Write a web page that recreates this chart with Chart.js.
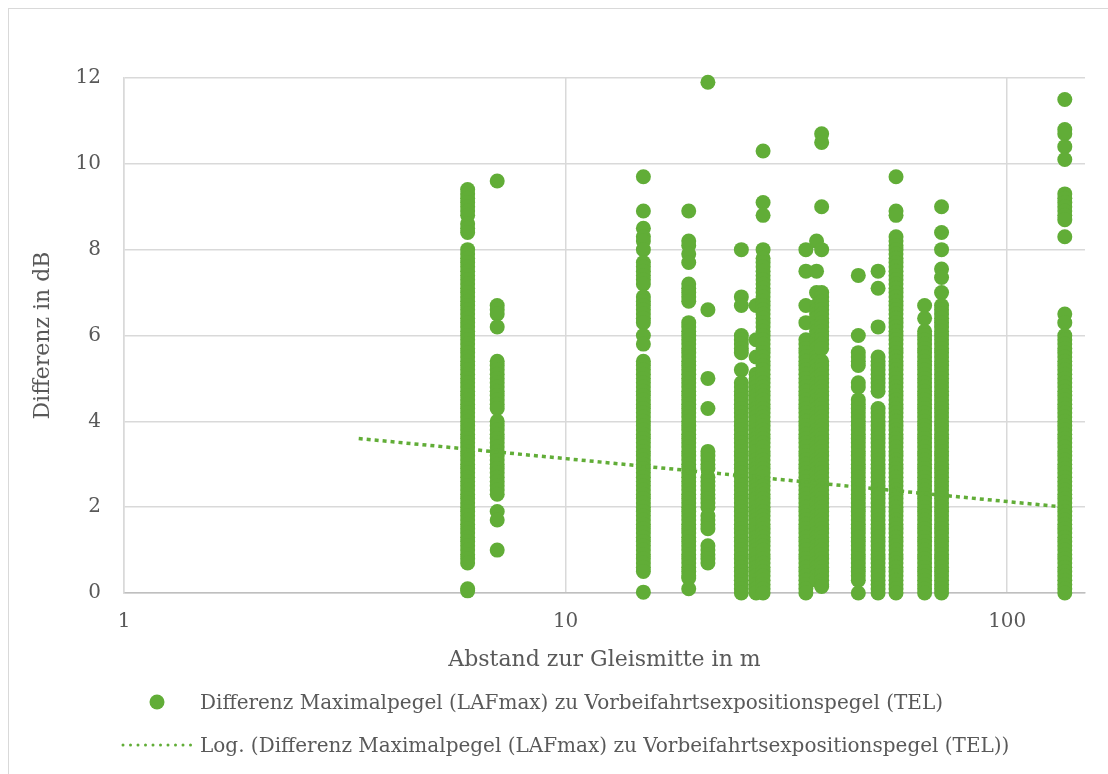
<!DOCTYPE html>
<html>
<head>
<meta charset="utf-8">
<script src="https://cdn.jsdelivr.net/npm/chart.js@4.4.1/dist/chart.umd.min.js"></script>
<style>
  html, body { margin: 0; padding: 0; background: #ffffff; overflow: hidden; }
  #wrap { position: relative; width: 1108px; height: 774px; }
  #frame { position: absolute; left: 8px; top: 8px; width: 1200px; height: 1000px;
           border: 1.5px solid #d9d9d9; box-sizing: border-box; }
  #chart { position: absolute; left: 0; top: 0; }
  #legend { position: absolute; left: 0; top: 0; width: 1108px; height: 774px;
            font-family: 'DejaVu Serif', serif; font-size: 20px; color: #595959; }
  #legend svg { position: absolute; left: 0; top: 0; }
  .item { position: absolute; left: 200px; white-space: nowrap; line-height: 24px; }
</style>
</head>
<body>
<div id="wrap">
  <div id="frame"></div>
  <canvas id="chart" width="1108" height="774"></canvas>
  <div id="legend">
    <svg width="1108" height="774">
      <circle id="legDot" cx="157" cy="702" r="7.5"></circle>
      <line id="legLine" x1="123" y1="745" x2="191" y2="745" stroke-width="3"
            stroke-dasharray="0 7.5" stroke-linecap="round"></line>
    </svg>
    <div class="item" id="leg1" style="top:690px"></div>
    <div class="item" id="leg2" style="top:733px"></div>
  </div>
</div>
<script>
// ---- data (dB values, 0.1 dB resolution) ----
const distances = [6, 7, 15, 19, 21, 25, 27, 28, 35, 37, 38, 46, 51, 56, 65, 71, 135];

const diff6m = [9.4, 9.3, 9.2, 9.1, 9.0, 8.9, 8.8, 8.6, 8.5, 8.4,
  8.0, 7.9, 7.8, 7.7, 7.6, 7.5, 7.4, 7.3, 7.2, 7.1, 7.0, 6.9, 6.8, 6.7, 6.6, 6.5, 6.4, 6.3, 6.2, 6.1,
  6.0, 5.9, 5.8, 5.7, 5.6, 5.5, 5.4, 5.3, 5.2, 5.1, 5.0, 4.9, 4.8, 4.7, 4.6, 4.5, 4.4, 4.3, 4.2, 4.1,
  4.0, 3.9, 3.8, 3.7, 3.6, 3.5, 3.4, 3.3, 3.2, 3.1, 3.0, 2.9, 2.8, 2.7, 2.6, 2.5, 2.4, 2.3, 2.2, 2.1,
  2.0, 1.9, 1.8, 1.7, 1.6, 1.5, 1.4, 1.3, 1.2, 1.1, 1.0, 0.9, 0.8, 0.7, 0.1, 0.05];
const diff7m = [9.6, 6.7, 6.6, 6.5, 6.2, 5.4, 5.3, 5.2, 5.1, 5.0, 4.9, 4.8, 4.7, 4.6, 4.5, 4.4, 4.3,
  4.0, 3.9, 3.8, 3.7, 3.6, 3.5, 3.4, 3.3, 3.2, 3.1, 3.0, 2.9, 2.8, 2.7, 2.6, 2.5, 2.4, 2.3, 1.9, 1.7, 1.0];
const diff15m = [9.7, 8.9, 8.5, 8.3, 8.2, 8.0, 7.7, 7.6, 7.5, 7.4, 7.3, 7.2, 6.9, 6.8, 6.7, 6.6, 6.5, 6.4, 6.3, 6.0, 5.8,
  5.4, 5.3, 5.2, 5.1, 5.0, 4.9, 4.8, 4.7, 4.6, 4.5, 4.4, 4.3, 4.2, 4.1, 4.0, 3.9, 3.8, 3.7, 3.6, 3.5,
  3.4, 3.3, 3.2, 3.1, 3.0, 2.9, 2.8, 2.7, 2.6, 2.5, 2.4, 2.3, 2.2, 2.1, 2.0, 1.9, 1.8, 1.7, 1.6, 1.5,
  1.4, 1.3, 1.2, 1.1, 1.0, 0.9, 0.8, 0.7, 0.6, 0.5, 0.02];
const diff19m = [8.9, 8.2, 8.1, 7.9, 7.7, 7.2, 7.1, 7.0, 6.9, 6.8,
  6.3, 6.2, 6.1, 6.0, 5.9, 5.8, 5.7, 5.6, 5.5, 5.4, 5.3, 5.2, 5.1, 5.0, 4.9, 4.8, 4.7, 4.6, 4.5, 4.4,
  4.3, 4.2, 4.1, 4.0, 3.9, 3.8, 3.7, 3.6, 3.5, 3.4, 3.3, 3.2, 3.1, 3.0, 2.9, 2.8, 2.7, 2.6, 2.5, 2.4,
  2.3, 2.2, 2.1, 2.0, 1.9, 1.8, 1.7, 1.6, 1.5, 1.4, 1.3, 1.2, 1.1, 1.0, 0.9, 0.8, 0.7, 0.6, 0.5, 0.4,
  0.35, 0.1];
const diff21m = [11.9, 6.6, 5.0, 4.3, 3.3, 3.2, 3.1, 3.0, 2.9, 2.7, 2.6, 2.5, 2.4, 2.3, 2.2, 2.1, 2.0,
  1.8, 1.7, 1.6, 1.5, 1.1, 1.0, 0.9, 0.8, 0.7];
const diff25m = [8.0, 6.9, 6.7, 6.0, 5.9, 5.8, 5.7, 5.6, 5.2,
  4.9, 4.8, 4.7, 4.6, 4.5, 4.4, 4.3, 4.2, 4.1, 4.0, 3.9, 3.8, 3.7, 3.6, 3.5, 3.4, 3.3, 3.2, 3.1, 3.0,
  2.9, 2.8, 2.7, 2.6, 2.5, 2.4, 2.3, 2.2, 2.1, 2.0, 1.9, 1.8, 1.7, 1.6, 1.5, 1.4, 1.3, 1.2, 1.1, 1.0,
  0.9, 0.8, 0.7, 0.6, 0.5, 0.4, 0.3, 0.2, 0.1, 0.0];
const diff27m = [6.7, 5.9, 5.5,
  5.1, 5.0, 4.9, 4.8, 4.7, 4.6, 4.5, 4.4, 4.3, 4.2, 4.1, 4.0, 3.9, 3.8, 3.7, 3.6, 3.5, 3.4, 3.3, 3.2,
  3.1, 3.0, 2.9, 2.8, 2.7, 2.6, 2.5, 2.4, 2.3, 2.2, 2.1, 2.0, 1.9, 1.8, 1.7, 1.6, 1.5, 1.4, 1.3, 1.2,
  1.1, 1.0, 0.9, 0.8, 0.7, 0.6, 0.5, 0.4, 0.3, 0.2, 0.1, 0.0];
const diff28m = [10.3, 9.1, 8.8, 8.0,
  7.8, 7.7, 7.6, 7.5, 7.4, 7.3, 7.2, 7.1, 7.0, 6.9, 6.8, 6.7, 6.6, 6.5, 6.4, 6.3, 6.2, 6.1, 6.0, 5.9,
  5.8, 5.7, 5.6, 5.5, 5.4, 5.3, 5.2, 5.1, 5.0, 4.9, 4.8, 4.7, 4.6, 4.5, 4.4, 4.3, 4.2, 4.1, 4.0, 3.9,
  3.8, 3.7, 3.6, 3.5, 3.4, 3.3, 3.2, 3.1, 3.0, 2.9, 2.8, 2.7, 2.6, 2.5, 2.4, 2.3, 2.2, 2.1, 2.0, 1.9,
  1.8, 1.7, 1.6, 1.5, 1.4, 1.3, 1.2, 1.1, 1.0, 0.9, 0.8, 0.7, 0.6, 0.5, 0.4, 0.3, 0.2, 0.1, 0.0];
const diff35m = [8.0, 7.5, 6.7, 6.3,
  5.9, 5.8, 5.7, 5.6, 5.5, 5.4, 5.3, 5.2, 5.1, 5.0, 4.9, 4.8, 4.7, 4.6, 4.5, 4.4, 4.3, 4.2, 4.1, 4.0,
  3.9, 3.8, 3.7, 3.6, 3.5, 3.4, 3.3, 3.2, 3.1, 3.0, 2.9, 2.8, 2.7, 2.6, 2.5, 2.4, 2.3, 2.2, 2.1, 2.0,
  1.9, 1.8, 1.7, 1.6, 1.5, 1.4, 1.3, 1.2, 1.1, 1.0, 0.9, 0.8, 0.7, 0.6, 0.5, 0.4, 0.3, 0.2, 0.1, 0.0];
const diff37m = [8.2, 7.5, 7.0,
  6.7, 6.6, 6.5, 6.4, 6.3, 6.2, 6.1, 6.0, 5.9, 5.8, 5.7, 5.6, 5.5, 5.4, 5.3, 5.2, 5.1, 5.0, 4.9, 4.8,
  4.7, 4.6, 4.5, 4.4, 4.3, 4.2, 4.1, 4.0, 3.9, 3.8, 3.7, 3.6, 3.5, 3.4, 3.3, 3.2, 3.1, 3.0, 2.9, 2.8,
  2.7, 2.6, 2.5, 2.4, 2.3, 2.2, 2.1, 2.0, 1.9, 1.8, 1.7, 1.6, 1.5, 1.4, 1.3, 1.2, 1.1, 1.0, 0.9, 0.8,
  0.7, 0.6, 0.5, 0.4, 0.3];
const diff38m = [10.7, 10.5, 9.0, 8.0, 7.0,
  6.9, 6.8, 6.7, 6.6, 6.5, 6.4, 6.3, 6.2, 6.1, 6.0, 5.9, 5.8, 5.7, 5.4, 5.3, 5.2, 5.1, 5.0, 4.9, 4.8,
  4.7, 4.6, 4.5, 4.4, 4.3, 4.2, 4.1, 4.0, 3.9, 3.8, 3.7, 3.6, 3.5, 3.4, 3.3, 3.2, 3.1, 3.0, 2.9, 2.8,
  2.7, 2.6, 2.5, 2.4, 2.3, 2.2, 2.1, 2.0, 1.9, 1.8, 1.7, 1.6, 1.5, 1.4, 1.3, 1.2, 1.1, 1.0, 0.9, 0.8,
  0.7, 0.6, 0.5, 0.4, 0.3, 0.2, 0.15];
const diff46m = [7.4, 6.0, 5.6, 5.5, 5.4, 5.3, 4.9, 4.8,
  4.5, 4.4, 4.3, 4.2, 4.1, 4.0, 3.9, 3.8, 3.7, 3.6, 3.5, 3.4, 3.3, 3.2, 3.1, 3.0, 2.9, 2.8, 2.7, 2.6,
  2.5, 2.4, 2.3, 2.2, 2.1, 2.0, 1.9, 1.8, 1.7, 1.6, 1.5, 1.4, 1.3, 1.2, 1.1, 1.0, 0.9, 0.8, 0.7, 0.6,
  0.5, 0.4, 0.3, 0.0];
const diff51m = [7.5, 7.1, 6.2, 5.5, 5.4, 5.3, 5.2, 5.1, 5.0, 4.9, 4.8, 4.7,
  4.3, 4.2, 4.1, 4.0, 3.9, 3.8, 3.7, 3.6, 3.5, 3.4, 3.3, 3.2, 3.1, 3.0, 2.9, 2.8, 2.7, 2.6, 2.5, 2.4,
  2.3, 2.2, 2.1, 2.0, 1.9, 1.8, 1.7, 1.6, 1.5, 1.4, 1.3, 1.2, 1.1, 1.0, 0.9, 0.8, 0.7, 0.6, 0.5, 0.4,
  0.3, 0.2, 0.1, 0.0];
const diff56m = [9.7, 8.9, 8.8, 8.3, 8.2, 8.1, 8.0, 7.9, 7.8, 7.7,
  7.6, 7.5, 7.4, 7.3, 7.2, 7.1, 7.0, 6.9, 6.8, 6.7, 6.6, 6.5, 6.4, 6.3, 6.2, 6.1, 6.0, 5.9, 5.8, 5.7,
  5.6, 5.5, 5.4, 5.3, 5.2, 5.1, 5.0, 4.9, 4.8, 4.7, 4.6, 4.5, 4.4, 4.3, 4.2, 4.1, 4.0, 3.9, 3.8, 3.7,
  3.6, 3.5, 3.4, 3.3, 3.2, 3.1, 3.0, 2.9, 2.8, 2.7, 2.6, 2.5, 2.4, 2.3, 2.2, 2.1, 2.0, 1.9, 1.8, 1.7,
  1.6, 1.5, 1.4, 1.3, 1.2, 1.1, 1.0, 0.9, 0.8, 0.7, 0.6, 0.5, 0.4, 0.3, 0.2, 0.1, 0.0];
const diff65m = [6.7, 6.4,
  6.1, 6.0, 5.9, 5.8, 5.7, 5.6, 5.5, 5.4, 5.3, 5.2, 5.1, 5.0, 4.9, 4.8, 4.7, 4.6, 4.5, 4.4, 4.3, 4.2,
  4.1, 4.0, 3.9, 3.8, 3.7, 3.6, 3.5, 3.4, 3.3, 3.2, 3.1, 3.0, 2.9, 2.8, 2.7, 2.6, 2.5, 2.4, 2.3, 2.2,
  2.1, 2.0, 1.9, 1.8, 1.7, 1.6, 1.5, 1.4, 1.3, 1.2, 1.1, 1.0, 0.9, 0.8, 0.7, 0.6, 0.5, 0.4, 0.3, 0.2,
  0.1, 0.0];
const diff71m = [9.0, 8.4, 8.0, 7.55, 7.35, 7.0,
  6.7, 6.6, 6.5, 6.4, 6.3, 6.2, 6.1, 6.0, 5.9, 5.8, 5.7, 5.6, 5.5, 5.4, 5.3, 5.2, 5.1, 5.0, 4.9, 4.8,
  4.7, 4.6, 4.5, 4.4, 4.3, 4.2, 4.1, 4.0, 3.9, 3.8, 3.7, 3.6, 3.5, 3.4, 3.3, 3.2, 3.1, 3.0, 2.9, 2.8,
  2.7, 2.6, 2.5, 2.4, 2.3, 2.2, 2.1, 2.0, 1.9, 1.8, 1.7, 1.6, 1.5, 1.4, 1.3, 1.2, 1.1, 1.0, 0.9, 0.8,
  0.7, 0.6, 0.5, 0.4, 0.3, 0.2, 0.1, 0.0];
const diff135m = [11.5, 10.8, 10.7, 10.4, 10.1, 9.3, 9.2, 9.1, 9.0, 8.9, 8.8, 8.7, 8.3, 6.5, 6.3,
  6.0, 5.9, 5.8, 5.7, 5.6, 5.5, 5.4, 5.3, 5.2, 5.1, 5.0, 4.9, 4.8, 4.7, 4.6, 4.5, 4.4, 4.3, 4.2, 4.1,
  4.0, 3.9, 3.8, 3.7, 3.6, 3.5, 3.4, 3.3, 3.2, 3.1, 3.0, 2.9, 2.8, 2.7, 2.6, 2.5, 2.4, 2.3, 2.2, 2.1,
  2.0, 1.9, 1.8, 1.7, 1.6, 1.5, 1.4, 1.3, 1.2, 1.1, 1.0, 0.9, 0.8, 0.7, 0.6, 0.5, 0.4, 0.3, 0.2, 0.1, 0.0];

// logarithmic trend line (Excel "Log." trendline) end points
const trendX = [3.4, 135];
const trendY = [3.6, 2.0];

const xTicks = [1, 10, 100];
const yTicks = [0, 2, 4, 6, 8, 10, 12];

const seriesName = 'Differenz Maximalpegel (LAFmax) zu Vorbeifahrtsexpositionspegel (TEL)';
const trendName = 'Log. (Differenz Maximalpegel (LAFmax) zu Vorbeifahrtsexpositionspegel (TEL))';
const xTitle = 'Abstand zur Gleismitte in m';
const yTitle = 'Differenz in dB';

// ---- build ----
const GREEN = '#61ad37';
const TEXT = '#595959';
const FONT = "'DejaVu Serif', serif";

const columns = [diff6m, diff7m, diff15m, diff19m, diff21m, diff25m, diff27m, diff28m,
                 diff35m, diff37m, diff38m, diff46m, diff51m, diff56m, diff65m, diff71m, diff135m];
const points = [];
distances.forEach((d, i) => columns[i].forEach(v => points.push({ x: d, y: v })));
const trendPoints = trendX.map((x, i) => ({ x: x, y: trendY[i] }));

document.getElementById('leg1').textContent = seriesName;
document.getElementById('leg2').textContent = trendName;
document.getElementById('legDot').setAttribute('fill', GREEN);
document.getElementById('legLine').setAttribute('stroke', GREEN);

new Chart(document.getElementById('chart').getContext('2d'), {
  type: 'scatter',
  data: {
    datasets: [
      {
        label: trendName, data: trendPoints, showLine: true,
        borderColor: GREEN, backgroundColor: GREEN, borderWidth: 3.5, borderDash: [4, 4],
        pointRadius: 0, pointHoverRadius: 0, fill: false, order: 0, clip: false
      },
      {
        label: seriesName, data: points,
        backgroundColor: GREEN, borderColor: GREEN, borderWidth: 0,
        pointRadius: 7.5, pointHoverRadius: 7.5, order: 1, clip: false
      }
    ]
  },
  options: {
    responsive: false, animation: false, devicePixelRatio: 1,
    layout: { padding: { left: 0, right: 23, top: 78, bottom: 0 } },
    plugins: { legend: { display: false }, tooltip: { enabled: false } },
    scales: {
      x: {
        type: 'logarithmic', min: 1, max: 150, position: 'bottom',
        afterBuildTicks: s => { s.ticks = xTicks.map(v => ({ value: v })); },
        afterFit: s => { s.height = 181; },
        ticks: { callback: v => String(v), font: { family: FONT, size: 20 }, color: TEXT,
                 padding: 17, autoSkip: false, maxRotation: 0 },
        grid: { color: '#d9d9d9', lineWidth: 1.5, drawTicks: false },
        border: { color: '#bfbfbf', width: 1.5 },
        title: { display: true, text: xTitle, font: { family: FONT, size: 22 }, color: TEXT,
                 padding: { top: 0, bottom: 101 } }
      },
      y: {
        min: 0, max: 12,
        afterBuildTicks: s => { s.ticks = yTicks.map(v => ({ value: v })); },
        afterFit: s => { s.width = 124; },
        ticks: { font: { family: FONT, size: 20 }, color: TEXT, padding: 23 },
        grid: { color: '#d9d9d9', lineWidth: 1.5, drawTicks: false },
        border: { color: '#d9d9d9', width: 1.5 },
        title: { display: true, text: yTitle, font: { family: FONT, size: 22 }, color: TEXT,
                 padding: { top: 30, bottom: 0 } }
      }
    }
  }
});
</script>
</body>
</html>
